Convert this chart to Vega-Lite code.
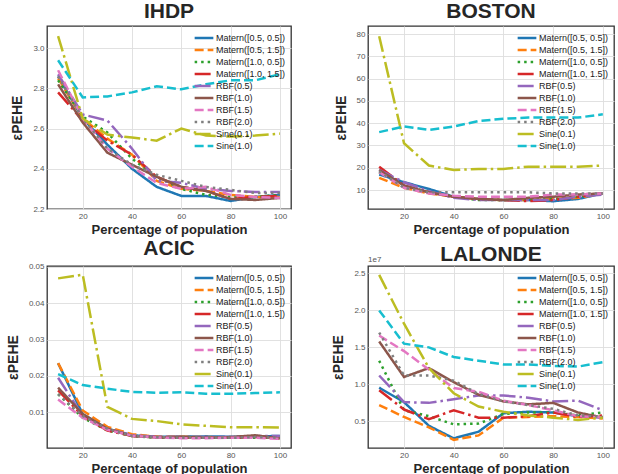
{
"$schema": "https://vega.github.io/schema/vega-lite/v6.json",
"background": "white",
"padding": {"left": 5, "top": 0, "right": 4, "bottom": 2},
"config": {
  "font": "Liberation Sans",
  "view": {"stroke": "#333333", "strokeWidth": 1.3},
  "axis": {"domain": false, "ticks": false, "grid": true, "gridColor": "#dedede", "gridWidth": 0.9, "labelColor": "#555555", "labelFontSize": 8, "labelFontWeight": "normal", "titleFontSize": 13, "titleFontWeight": "bold", "titleColor": "#262626", "labelPadding": 3, "titlePadding": 3},
  "axisY": {"titlePadding": 8, "titleFontSize": 14},
  "title": {"fontSize": 21, "fontWeight": "bold", "color": "#262626", "offset": 0},
  "legend": {"orient": "top-right", "offset": 3, "padding": 2, "labelFontSize": 9, "labelColor": "#1a1a1a", "symbolType": "M-1.7,0H1.7", "symbolStrokeWidth": 2.5, "symbolSize": 121, "rowPadding": 0, "labelLimit": 200, "labelOffset": 5},
  "line": {"strokeWidth": 2.5, "strokeCap": "butt"}
},
"datasets": {
"IHDP": [
{"k":"Matern([0.5, 0.5])","x":10,"y":2.86},{"k":"Matern([0.5, 0.5])","x":20,"y":2.65},{"k":"Matern([0.5, 0.5])","x":30,"y":2.52},{"k":"Matern([0.5, 0.5])","x":40,"y":2.40},{"k":"Matern([0.5, 0.5])","x":50,"y":2.31},{"k":"Matern([0.5, 0.5])","x":60,"y":2.265},{"k":"Matern([0.5, 0.5])","x":70,"y":2.265},{"k":"Matern([0.5, 0.5])","x":80,"y":2.24},{"k":"Matern([0.5, 0.5])","x":90,"y":2.26},{"k":"Matern([0.5, 0.5])","x":100,"y":2.27},
{"k":"Matern([0.5, 1.5])","x":10,"y":2.85},{"k":"Matern([0.5, 1.5])","x":20,"y":2.65},{"k":"Matern([0.5, 1.5])","x":30,"y":2.55},{"k":"Matern([0.5, 1.5])","x":40,"y":2.47},{"k":"Matern([0.5, 1.5])","x":50,"y":2.34},{"k":"Matern([0.5, 1.5])","x":60,"y":2.30},{"k":"Matern([0.5, 1.5])","x":70,"y":2.29},{"k":"Matern([0.5, 1.5])","x":80,"y":2.27},{"k":"Matern([0.5, 1.5])","x":90,"y":2.26},{"k":"Matern([0.5, 1.5])","x":100,"y":2.26},
{"k":"Matern([1.0, 0.5])","x":10,"y":2.84},{"k":"Matern([1.0, 0.5])","x":20,"y":2.66},{"k":"Matern([1.0, 0.5])","x":30,"y":2.58},{"k":"Matern([1.0, 0.5])","x":40,"y":2.45},{"k":"Matern([1.0, 0.5])","x":50,"y":2.36},{"k":"Matern([1.0, 0.5])","x":60,"y":2.30},{"k":"Matern([1.0, 0.5])","x":70,"y":2.27},{"k":"Matern([1.0, 0.5])","x":80,"y":2.26},{"k":"Matern([1.0, 0.5])","x":90,"y":2.26},{"k":"Matern([1.0, 0.5])","x":100,"y":2.27},
{"k":"Matern([1.0, 1.5])","x":10,"y":2.78},{"k":"Matern([1.0, 1.5])","x":20,"y":2.64},{"k":"Matern([1.0, 1.5])","x":30,"y":2.54},{"k":"Matern([1.0, 1.5])","x":40,"y":2.47},{"k":"Matern([1.0, 1.5])","x":50,"y":2.36},{"k":"Matern([1.0, 1.5])","x":60,"y":2.31},{"k":"Matern([1.0, 1.5])","x":70,"y":2.29},{"k":"Matern([1.0, 1.5])","x":80,"y":2.25},{"k":"Matern([1.0, 1.5])","x":90,"y":2.26},{"k":"Matern([1.0, 1.5])","x":100,"y":2.265},
{"k":"RBF(0.5)","x":10,"y":2.87},{"k":"RBF(0.5)","x":20,"y":2.67},{"k":"RBF(0.5)","x":30,"y":2.64},{"k":"RBF(0.5)","x":40,"y":2.50},{"k":"RBF(0.5)","x":50,"y":2.34},{"k":"RBF(0.5)","x":60,"y":2.33},{"k":"RBF(0.5)","x":70,"y":2.30},{"k":"RBF(0.5)","x":80,"y":2.29},{"k":"RBF(0.5)","x":90,"y":2.285},{"k":"RBF(0.5)","x":100,"y":2.285},
{"k":"RBF(1.0)","x":10,"y":2.82},{"k":"RBF(1.0)","x":20,"y":2.63},{"k":"RBF(1.0)","x":30,"y":2.48},{"k":"RBF(1.0)","x":40,"y":2.42},{"k":"RBF(1.0)","x":50,"y":2.36},{"k":"RBF(1.0)","x":60,"y":2.31},{"k":"RBF(1.0)","x":70,"y":2.29},{"k":"RBF(1.0)","x":80,"y":2.25},{"k":"RBF(1.0)","x":90,"y":2.245},{"k":"RBF(1.0)","x":100,"y":2.255},
{"k":"RBF(1.5)","x":10,"y":2.89},{"k":"RBF(1.5)","x":20,"y":2.65},{"k":"RBF(1.5)","x":30,"y":2.50},{"k":"RBF(1.5)","x":40,"y":2.41},{"k":"RBF(1.5)","x":50,"y":2.33},{"k":"RBF(1.5)","x":60,"y":2.30},{"k":"RBF(1.5)","x":70,"y":2.31},{"k":"RBF(1.5)","x":80,"y":2.27},{"k":"RBF(1.5)","x":90,"y":2.26},{"k":"RBF(1.5)","x":100,"y":2.255},
{"k":"RBF(2.0)","x":10,"y":2.86},{"k":"RBF(2.0)","x":20,"y":2.65},{"k":"RBF(2.0)","x":30,"y":2.50},{"k":"RBF(2.0)","x":40,"y":2.42},{"k":"RBF(2.0)","x":50,"y":2.37},{"k":"RBF(2.0)","x":60,"y":2.34},{"k":"RBF(2.0)","x":70,"y":2.31},{"k":"RBF(2.0)","x":80,"y":2.295},{"k":"RBF(2.0)","x":90,"y":2.28},{"k":"RBF(2.0)","x":100,"y":2.28},
{"k":"Sine(0.1)","x":10,"y":3.06},{"k":"Sine(0.1)","x":20,"y":2.65},{"k":"Sine(0.1)","x":30,"y":2.57},{"k":"Sine(0.1)","x":40,"y":2.555},{"k":"Sine(0.1)","x":50,"y":2.54},{"k":"Sine(0.1)","x":60,"y":2.60},{"k":"Sine(0.1)","x":70,"y":2.565},{"k":"Sine(0.1)","x":80,"y":2.56},{"k":"Sine(0.1)","x":90,"y":2.565},{"k":"Sine(0.1)","x":100,"y":2.575},
{"k":"Sine(1.0)","x":10,"y":2.94},{"k":"Sine(1.0)","x":20,"y":2.755},{"k":"Sine(1.0)","x":30,"y":2.76},{"k":"Sine(1.0)","x":40,"y":2.78},{"k":"Sine(1.0)","x":50,"y":2.81},{"k":"Sine(1.0)","x":60,"y":2.795},{"k":"Sine(1.0)","x":70,"y":2.82},{"k":"Sine(1.0)","x":80,"y":2.84},{"k":"Sine(1.0)","x":90,"y":2.84},{"k":"Sine(1.0)","x":100,"y":2.87}
],
"BOSTON": [
{"k":"Matern([0.5, 0.5])","x":10,"y":17},{"k":"Matern([0.5, 0.5])","x":20,"y":13.5},{"k":"Matern([0.5, 0.5])","x":30,"y":10.5},{"k":"Matern([0.5, 0.5])","x":40,"y":7},{"k":"Matern([0.5, 0.5])","x":50,"y":6},{"k":"Matern([0.5, 0.5])","x":60,"y":5.5},{"k":"Matern([0.5, 0.5])","x":70,"y":5.5},{"k":"Matern([0.5, 0.5])","x":80,"y":5},{"k":"Matern([0.5, 0.5])","x":90,"y":6},{"k":"Matern([0.5, 0.5])","x":100,"y":8.5},
{"k":"Matern([0.5, 1.5])","x":10,"y":15.5},{"k":"Matern([0.5, 1.5])","x":20,"y":11},{"k":"Matern([0.5, 1.5])","x":30,"y":8.5},{"k":"Matern([0.5, 1.5])","x":40,"y":7},{"k":"Matern([0.5, 1.5])","x":50,"y":6},{"k":"Matern([0.5, 1.5])","x":60,"y":5.5},{"k":"Matern([0.5, 1.5])","x":70,"y":5.5},{"k":"Matern([0.5, 1.5])","x":80,"y":6},{"k":"Matern([0.5, 1.5])","x":90,"y":6.5},{"k":"Matern([0.5, 1.5])","x":100,"y":8.5},
{"k":"Matern([1.0, 0.5])","x":10,"y":18},{"k":"Matern([1.0, 0.5])","x":20,"y":11.5},{"k":"Matern([1.0, 0.5])","x":30,"y":9},{"k":"Matern([1.0, 0.5])","x":40,"y":7},{"k":"Matern([1.0, 0.5])","x":50,"y":5.5},{"k":"Matern([1.0, 0.5])","x":60,"y":5.5},{"k":"Matern([1.0, 0.5])","x":70,"y":5.5},{"k":"Matern([1.0, 0.5])","x":80,"y":6},{"k":"Matern([1.0, 0.5])","x":90,"y":7},{"k":"Matern([1.0, 0.5])","x":100,"y":8.5},
{"k":"Matern([1.0, 1.5])","x":10,"y":20.5},{"k":"Matern([1.0, 1.5])","x":20,"y":12},{"k":"Matern([1.0, 1.5])","x":30,"y":9},{"k":"Matern([1.0, 1.5])","x":40,"y":7},{"k":"Matern([1.0, 1.5])","x":50,"y":6},{"k":"Matern([1.0, 1.5])","x":60,"y":5.5},{"k":"Matern([1.0, 1.5])","x":70,"y":5},{"k":"Matern([1.0, 1.5])","x":80,"y":5.5},{"k":"Matern([1.0, 1.5])","x":90,"y":7},{"k":"Matern([1.0, 1.5])","x":100,"y":8.5},
{"k":"RBF(0.5)","x":10,"y":19},{"k":"RBF(0.5)","x":20,"y":13.5},{"k":"RBF(0.5)","x":30,"y":9.5},{"k":"RBF(0.5)","x":40,"y":6.5},{"k":"RBF(0.5)","x":50,"y":5.5},{"k":"RBF(0.5)","x":60,"y":5.5},{"k":"RBF(0.5)","x":70,"y":5.5},{"k":"RBF(0.5)","x":80,"y":5.5},{"k":"RBF(0.5)","x":90,"y":7},{"k":"RBF(0.5)","x":100,"y":8},
{"k":"RBF(1.0)","x":10,"y":19},{"k":"RBF(1.0)","x":20,"y":12},{"k":"RBF(1.0)","x":30,"y":9},{"k":"RBF(1.0)","x":40,"y":7},{"k":"RBF(1.0)","x":50,"y":6},{"k":"RBF(1.0)","x":60,"y":5.5},{"k":"RBF(1.0)","x":70,"y":6.5},{"k":"RBF(1.0)","x":80,"y":7},{"k":"RBF(1.0)","x":90,"y":8},{"k":"RBF(1.0)","x":100,"y":8.5},
{"k":"RBF(1.5)","x":10,"y":18},{"k":"RBF(1.5)","x":20,"y":11},{"k":"RBF(1.5)","x":30,"y":8.5},{"k":"RBF(1.5)","x":40,"y":7.5},{"k":"RBF(1.5)","x":50,"y":7},{"k":"RBF(1.5)","x":60,"y":7},{"k":"RBF(1.5)","x":70,"y":7},{"k":"RBF(1.5)","x":80,"y":8},{"k":"RBF(1.5)","x":90,"y":8},{"k":"RBF(1.5)","x":100,"y":8.5},
{"k":"RBF(2.0)","x":10,"y":18.5},{"k":"RBF(2.0)","x":20,"y":11},{"k":"RBF(2.0)","x":30,"y":9},{"k":"RBF(2.0)","x":40,"y":9},{"k":"RBF(2.0)","x":50,"y":9},{"k":"RBF(2.0)","x":60,"y":9},{"k":"RBF(2.0)","x":70,"y":9},{"k":"RBF(2.0)","x":80,"y":8.5},{"k":"RBF(2.0)","x":90,"y":8.5},{"k":"RBF(2.0)","x":100,"y":8.5},
{"k":"Sine(0.1)","x":10,"y":79},{"k":"Sine(0.1)","x":20,"y":31},{"k":"Sine(0.1)","x":30,"y":21},{"k":"Sine(0.1)","x":40,"y":19},{"k":"Sine(0.1)","x":50,"y":19.5},{"k":"Sine(0.1)","x":60,"y":19.5},{"k":"Sine(0.1)","x":70,"y":20.5},{"k":"Sine(0.1)","x":80,"y":20.5},{"k":"Sine(0.1)","x":90,"y":20.5},{"k":"Sine(0.1)","x":100,"y":21},
{"k":"Sine(1.0)","x":10,"y":36},{"k":"Sine(1.0)","x":20,"y":38.5},{"k":"Sine(1.0)","x":30,"y":37},{"k":"Sine(1.0)","x":40,"y":38.5},{"k":"Sine(1.0)","x":50,"y":41},{"k":"Sine(1.0)","x":60,"y":42},{"k":"Sine(1.0)","x":70,"y":42.5},{"k":"Sine(1.0)","x":80,"y":42.5},{"k":"Sine(1.0)","x":90,"y":42.5},{"k":"Sine(1.0)","x":100,"y":44}
],
"ACIC": [
{"k":"Matern([0.5, 0.5])","x":10,"y":0.0235},{"k":"Matern([0.5, 0.5])","x":20,"y":0.0095},{"k":"Matern([0.5, 0.5])","x":30,"y":0.0055},{"k":"Matern([0.5, 0.5])","x":40,"y":0.0037},{"k":"Matern([0.5, 0.5])","x":50,"y":0.0033},{"k":"Matern([0.5, 0.5])","x":60,"y":0.0033},{"k":"Matern([0.5, 0.5])","x":70,"y":0.0034},{"k":"Matern([0.5, 0.5])","x":80,"y":0.0033},{"k":"Matern([0.5, 0.5])","x":90,"y":0.0034},{"k":"Matern([0.5, 0.5])","x":100,"y":0.0035},
{"k":"Matern([0.5, 1.5])","x":10,"y":0.0235},{"k":"Matern([0.5, 1.5])","x":20,"y":0.0105},{"k":"Matern([0.5, 1.5])","x":30,"y":0.006},{"k":"Matern([0.5, 1.5])","x":40,"y":0.004},{"k":"Matern([0.5, 1.5])","x":50,"y":0.0033},{"k":"Matern([0.5, 1.5])","x":60,"y":0.0033},{"k":"Matern([0.5, 1.5])","x":70,"y":0.0032},{"k":"Matern([0.5, 1.5])","x":80,"y":0.0031},{"k":"Matern([0.5, 1.5])","x":90,"y":0.0035},{"k":"Matern([0.5, 1.5])","x":100,"y":0.0028},
{"k":"Matern([1.0, 0.5])","x":10,"y":0.015},{"k":"Matern([1.0, 0.5])","x":20,"y":0.0085},{"k":"Matern([1.0, 0.5])","x":30,"y":0.005},{"k":"Matern([1.0, 0.5])","x":40,"y":0.0035},{"k":"Matern([1.0, 0.5])","x":50,"y":0.003},{"k":"Matern([1.0, 0.5])","x":60,"y":0.003},{"k":"Matern([1.0, 0.5])","x":70,"y":0.003},{"k":"Matern([1.0, 0.5])","x":80,"y":0.003},{"k":"Matern([1.0, 0.5])","x":90,"y":0.003},{"k":"Matern([1.0, 0.5])","x":100,"y":0.003},
{"k":"Matern([1.0, 1.5])","x":10,"y":0.016},{"k":"Matern([1.0, 1.5])","x":20,"y":0.009},{"k":"Matern([1.0, 1.5])","x":30,"y":0.005},{"k":"Matern([1.0, 1.5])","x":40,"y":0.0035},{"k":"Matern([1.0, 1.5])","x":50,"y":0.0032},{"k":"Matern([1.0, 1.5])","x":60,"y":0.003},{"k":"Matern([1.0, 1.5])","x":70,"y":0.003},{"k":"Matern([1.0, 1.5])","x":80,"y":0.003},{"k":"Matern([1.0, 1.5])","x":90,"y":0.0032},{"k":"Matern([1.0, 1.5])","x":100,"y":0.003},
{"k":"RBF(0.5)","x":10,"y":0.0195},{"k":"RBF(0.5)","x":20,"y":0.009},{"k":"RBF(0.5)","x":30,"y":0.0055},{"k":"RBF(0.5)","x":40,"y":0.0037},{"k":"RBF(0.5)","x":50,"y":0.0033},{"k":"RBF(0.5)","x":60,"y":0.0032},{"k":"RBF(0.5)","x":70,"y":0.0032},{"k":"RBF(0.5)","x":80,"y":0.0032},{"k":"RBF(0.5)","x":90,"y":0.0035},{"k":"RBF(0.5)","x":100,"y":0.0035},
{"k":"RBF(1.0)","x":10,"y":0.0168},{"k":"RBF(1.0)","x":20,"y":0.0095},{"k":"RBF(1.0)","x":30,"y":0.0055},{"k":"RBF(1.0)","x":40,"y":0.0035},{"k":"RBF(1.0)","x":50,"y":0.0031},{"k":"RBF(1.0)","x":60,"y":0.0033},{"k":"RBF(1.0)","x":70,"y":0.003},{"k":"RBF(1.0)","x":80,"y":0.0032},{"k":"RBF(1.0)","x":90,"y":0.0037},{"k":"RBF(1.0)","x":100,"y":0.0028},
{"k":"RBF(1.5)","x":10,"y":0.0135},{"k":"RBF(1.5)","x":20,"y":0.0085},{"k":"RBF(1.5)","x":30,"y":0.0052},{"k":"RBF(1.5)","x":40,"y":0.0036},{"k":"RBF(1.5)","x":50,"y":0.0031},{"k":"RBF(1.5)","x":60,"y":0.0029},{"k":"RBF(1.5)","x":70,"y":0.0029},{"k":"RBF(1.5)","x":80,"y":0.003},{"k":"RBF(1.5)","x":90,"y":0.003},{"k":"RBF(1.5)","x":100,"y":0.0027},
{"k":"RBF(2.0)","x":10,"y":0.015},{"k":"RBF(2.0)","x":20,"y":0.009},{"k":"RBF(2.0)","x":30,"y":0.0055},{"k":"RBF(2.0)","x":40,"y":0.0035},{"k":"RBF(2.0)","x":50,"y":0.0032},{"k":"RBF(2.0)","x":60,"y":0.003},{"k":"RBF(2.0)","x":70,"y":0.003},{"k":"RBF(2.0)","x":80,"y":0.003},{"k":"RBF(2.0)","x":90,"y":0.0032},{"k":"RBF(2.0)","x":100,"y":0.003},
{"k":"Sine(0.1)","x":10,"y":0.0468},{"k":"Sine(0.1)","x":20,"y":0.0478},{"k":"Sine(0.1)","x":30,"y":0.0115},{"k":"Sine(0.1)","x":40,"y":0.0082},{"k":"Sine(0.1)","x":50,"y":0.0076},{"k":"Sine(0.1)","x":60,"y":0.0067},{"k":"Sine(0.1)","x":70,"y":0.0063},{"k":"Sine(0.1)","x":80,"y":0.0059},{"k":"Sine(0.1)","x":90,"y":0.0059},{"k":"Sine(0.1)","x":100,"y":0.0058},
{"k":"Sine(1.0)","x":10,"y":0.0205},{"k":"Sine(1.0)","x":20,"y":0.0175},{"k":"Sine(1.0)","x":30,"y":0.0165},{"k":"Sine(1.0)","x":40,"y":0.0156},{"k":"Sine(1.0)","x":50,"y":0.0154},{"k":"Sine(1.0)","x":60,"y":0.0155},{"k":"Sine(1.0)","x":70,"y":0.0151},{"k":"Sine(1.0)","x":80,"y":0.0151},{"k":"Sine(1.0)","x":90,"y":0.0153},{"k":"Sine(1.0)","x":100,"y":0.0155}
],
"LALONDE": [
{"k":"Matern([0.5, 0.5])","x":10,"y":9550000},{"k":"Matern([0.5, 0.5])","x":20,"y":7600000},{"k":"Matern([0.5, 0.5])","x":30,"y":4400000},{"k":"Matern([0.5, 0.5])","x":40,"y":2700000},{"k":"Matern([0.5, 0.5])","x":50,"y":3600000},{"k":"Matern([0.5, 0.5])","x":60,"y":6100000},{"k":"Matern([0.5, 0.5])","x":70,"y":6300000},{"k":"Matern([0.5, 0.5])","x":80,"y":6200000},{"k":"Matern([0.5, 0.5])","x":90,"y":5700000},{"k":"Matern([0.5, 0.5])","x":100,"y":5500000},
{"k":"Matern([0.5, 1.5])","x":10,"y":7200000},{"k":"Matern([0.5, 1.5])","x":20,"y":5600000},{"k":"Matern([0.5, 1.5])","x":30,"y":4200000},{"k":"Matern([0.5, 1.5])","x":40,"y":2500000},{"k":"Matern([0.5, 1.5])","x":50,"y":3100000},{"k":"Matern([0.5, 1.5])","x":60,"y":5500000},{"k":"Matern([0.5, 1.5])","x":70,"y":5600000},{"k":"Matern([0.5, 1.5])","x":80,"y":5700000},{"k":"Matern([0.5, 1.5])","x":90,"y":5600000},{"k":"Matern([0.5, 1.5])","x":100,"y":5400000},
{"k":"Matern([1.0, 0.5])","x":10,"y":13200000},{"k":"Matern([1.0, 0.5])","x":20,"y":6500000},{"k":"Matern([1.0, 0.5])","x":30,"y":5700000},{"k":"Matern([1.0, 0.5])","x":40,"y":4600000},{"k":"Matern([1.0, 0.5])","x":50,"y":4700000},{"k":"Matern([1.0, 0.5])","x":60,"y":6000000},{"k":"Matern([1.0, 0.5])","x":70,"y":6200000},{"k":"Matern([1.0, 0.5])","x":80,"y":6200000},{"k":"Matern([1.0, 0.5])","x":90,"y":5800000},{"k":"Matern([1.0, 0.5])","x":100,"y":6200000},
{"k":"Matern([1.0, 1.5])","x":10,"y":9200000},{"k":"Matern([1.0, 1.5])","x":20,"y":6600000},{"k":"Matern([1.0, 1.5])","x":30,"y":5300000},{"k":"Matern([1.0, 1.5])","x":40,"y":6500000},{"k":"Matern([1.0, 1.5])","x":50,"y":5500000},{"k":"Matern([1.0, 1.5])","x":60,"y":5500000},{"k":"Matern([1.0, 1.5])","x":70,"y":5700000},{"k":"Matern([1.0, 1.5])","x":80,"y":6200000},{"k":"Matern([1.0, 1.5])","x":90,"y":5600000},{"k":"Matern([1.0, 1.5])","x":100,"y":5800000},
{"k":"RBF(0.5)","x":10,"y":11200000},{"k":"RBF(0.5)","x":20,"y":7600000},{"k":"RBF(0.5)","x":30,"y":7500000},{"k":"RBF(0.5)","x":40,"y":8000000},{"k":"RBF(0.5)","x":50,"y":8500000},{"k":"RBF(0.5)","x":60,"y":8500000},{"k":"RBF(0.5)","x":70,"y":8200000},{"k":"RBF(0.5)","x":80,"y":7700000},{"k":"RBF(0.5)","x":90,"y":7800000},{"k":"RBF(0.5)","x":100,"y":6500000},
{"k":"RBF(1.0)","x":10,"y":15800000},{"k":"RBF(1.0)","x":20,"y":11000000},{"k":"RBF(1.0)","x":30,"y":12200000},{"k":"RBF(1.0)","x":40,"y":10300000},{"k":"RBF(1.0)","x":50,"y":8600000},{"k":"RBF(1.0)","x":60,"y":7700000},{"k":"RBF(1.0)","x":70,"y":7300000},{"k":"RBF(1.0)","x":80,"y":7500000},{"k":"RBF(1.0)","x":90,"y":6200000},{"k":"RBF(1.0)","x":100,"y":5500000},
{"k":"RBF(1.5)","x":10,"y":16600000},{"k":"RBF(1.5)","x":20,"y":14500000},{"k":"RBF(1.5)","x":30,"y":12000000},{"k":"RBF(1.5)","x":40,"y":9500000},{"k":"RBF(1.5)","x":50,"y":9000000},{"k":"RBF(1.5)","x":60,"y":7800000},{"k":"RBF(1.5)","x":70,"y":7200000},{"k":"RBF(1.5)","x":80,"y":6500000},{"k":"RBF(1.5)","x":90,"y":5700000},{"k":"RBF(1.5)","x":100,"y":5500000},
{"k":"RBF(2.0)","x":10,"y":17000000},{"k":"RBF(2.0)","x":20,"y":11200000},{"k":"RBF(2.0)","x":30,"y":11200000},{"k":"RBF(2.0)","x":40,"y":10500000},{"k":"RBF(2.0)","x":50,"y":8700000},{"k":"RBF(2.0)","x":60,"y":7700000},{"k":"RBF(2.0)","x":70,"y":7200000},{"k":"RBF(2.0)","x":80,"y":6700000},{"k":"RBF(2.0)","x":90,"y":5800000},{"k":"RBF(2.0)","x":100,"y":5600000},
{"k":"Sine(0.1)","x":10,"y":24800000},{"k":"Sine(0.1)","x":20,"y":18200000},{"k":"Sine(0.1)","x":30,"y":12200000},{"k":"Sine(0.1)","x":40,"y":8800000},{"k":"Sine(0.1)","x":50,"y":7000000},{"k":"Sine(0.1)","x":60,"y":6300000},{"k":"Sine(0.1)","x":70,"y":5800000},{"k":"Sine(0.1)","x":80,"y":5500000},{"k":"Sine(0.1)","x":90,"y":5200000},{"k":"Sine(0.1)","x":100,"y":5500000},
{"k":"Sine(1.0)","x":10,"y":20000000},{"k":"Sine(1.0)","x":20,"y":15500000},{"k":"Sine(1.0)","x":30,"y":15000000},{"k":"Sine(1.0)","x":40,"y":13700000},{"k":"Sine(1.0)","x":50,"y":13200000},{"k":"Sine(1.0)","x":60,"y":12700000},{"k":"Sine(1.0)","x":70,"y":12700000},{"k":"Sine(1.0)","x":80,"y":12500000},{"k":"Sine(1.0)","x":90,"y":12400000},{"k":"Sine(1.0)","x":100,"y":13000000}
],
"offset": [{"t": "1e7"}]
},
"resolve": {"scale": {"color": "independent", "strokeDash": "independent"}, "legend": {"color": "independent", "strokeDash": "independent"}},
"columns": 2,
"bounds": "flush",
"spacing": {"row": 57, "column": 77},
"concat": [
 {"title": "IHDP", "width": 244, "height": 183, "data": {"name": "IHDP"}, "mark": {"type": "line"},
  "encoding": {
   "x": {"field": "x", "type": "quantitative", "scale": {"domain": [5.5, 104.5], "nice": false, "zero": false}, "axis": {"values": [20, 40, 60, 80, 100], "title": "Percentage of population"}},
   "y": {"field": "y", "type": "quantitative", "scale": {"domain": [2.2, 3.11], "nice": false, "zero": false}, "axis": {"values": [2.2, 2.4, 2.6, 2.8, 3.0], "format": ".1f", "title": "εPEHE"}},
   "color": {"field": "k", "type": "nominal", "title": null, "scale": {"domain": ["Matern([0.5, 0.5])","Matern([0.5, 1.5])","Matern([1.0, 0.5])","Matern([1.0, 1.5])","RBF(0.5)","RBF(1.0)","RBF(1.5)","RBF(2.0)","Sine(0.1)","Sine(1.0)"], "range": ["#1f77b4","#ff7f0e","#2ca02c","#d62728","#9467bd","#8c564b","#e377c2","#7f7f7f","#bcbd22","#17becf"]}},
   "strokeDash": {"field": "k", "type": "nominal", "title": null, "scale": {"domain": ["Matern([0.5, 0.5])","Matern([0.5, 1.5])","Matern([1.0, 0.5])","Matern([1.0, 1.5])","RBF(0.5)","RBF(1.0)","RBF(1.5)","RBF(2.0)","Sine(0.1)","Sine(1.0)"], "range": [[1,0],[9,4],[2.5,4],[16,4,2.5,4],[16,4,2.5,4],[1,0],[9,4],[2.5,4],[16,4,2.5,4],[9,4]]}}
  }},
 {"title": "BOSTON", "width": 246, "height": 183, "data": {"name": "BOSTON"}, "mark": {"type": "line"},
  "encoding": {
   "x": {"field": "x", "type": "quantitative", "scale": {"domain": [5.5, 104.5], "nice": false, "zero": false}, "axis": {"values": [20, 40, 60, 80, 100], "title": "Percentage of population"}},
   "y": {"field": "y", "type": "quantitative", "scale": {"domain": [1.5, 83.6], "nice": false, "zero": false}, "axis": {"values": [10, 20, 30, 40, 50, 60, 70, 80], "title": "εPEHE"}},
   "color": {"field": "k", "type": "nominal", "title": null, "scale": {"domain": ["Matern([0.5, 0.5])","Matern([0.5, 1.5])","Matern([1.0, 0.5])","Matern([1.0, 1.5])","RBF(0.5)","RBF(1.0)","RBF(1.5)","RBF(2.0)","Sine(0.1)","Sine(1.0)"], "range": ["#1f77b4","#ff7f0e","#2ca02c","#d62728","#9467bd","#8c564b","#e377c2","#7f7f7f","#bcbd22","#17becf"]}},
   "strokeDash": {"field": "k", "type": "nominal", "title": null, "scale": {"domain": ["Matern([0.5, 0.5])","Matern([0.5, 1.5])","Matern([1.0, 0.5])","Matern([1.0, 1.5])","RBF(0.5)","RBF(1.0)","RBF(1.5)","RBF(2.0)","Sine(0.1)","Sine(1.0)"], "range": [[1,0],[9,4],[2.5,4],[16,4,2.5,4],[16,4,2.5,4],[1,0],[9,4],[2.5,4],[16,4,2.5,4],[9,4]]}}
  }},
 {"title": "ACIC", "width": 244, "height": 182, "data": {"name": "ACIC"}, "mark": {"type": "line"},
  "encoding": {
   "x": {"field": "x", "type": "quantitative", "scale": {"domain": [5.5, 104.5], "nice": false, "zero": false}, "axis": {"values": [20, 40, 60, 80, 100], "title": "Percentage of population"}},
   "y": {"field": "y", "type": "quantitative", "scale": {"domain": [0.0002, 0.0502], "nice": false, "zero": false}, "axis": {"values": [0.01, 0.02, 0.03, 0.04, 0.05], "format": ".2f", "title": "εPEHE"}},
   "color": {"field": "k", "type": "nominal", "title": null, "scale": {"domain": ["Matern([0.5, 0.5])","Matern([0.5, 1.5])","Matern([1.0, 0.5])","Matern([1.0, 1.5])","RBF(0.5)","RBF(1.0)","RBF(1.5)","RBF(2.0)","Sine(0.1)","Sine(1.0)"], "range": ["#1f77b4","#ff7f0e","#2ca02c","#d62728","#9467bd","#8c564b","#e377c2","#7f7f7f","#bcbd22","#17becf"]}},
   "strokeDash": {"field": "k", "type": "nominal", "title": null, "scale": {"domain": ["Matern([0.5, 0.5])","Matern([0.5, 1.5])","Matern([1.0, 0.5])","Matern([1.0, 1.5])","RBF(0.5)","RBF(1.0)","RBF(1.5)","RBF(2.0)","Sine(0.1)","Sine(1.0)"], "range": [[1,0],[9,4],[2.5,4],[16,4,2.5,4],[16,4,2.5,4],[1,0],[9,4],[2.5,4],[16,4,2.5,4],[9,4]]}}
  }},
 {"title": {"text": "LALONDE", "offset": -9}, "width": 246, "height": 182,
  "layer": [
   {"data": {"name": "LALONDE"}, "mark": {"type": "line"},
    "encoding": {
     "x": {"field": "x", "type": "quantitative", "scale": {"domain": [5.5, 104.5], "nice": false, "zero": false}, "axis": {"values": [20, 40, 60, 80, 100], "title": "Percentage of population"}},
     "y": {"field": "y", "type": "quantitative", "scale": {"domain": [1400000, 26000000], "nice": false, "zero": false}, "axis": {"values": [5000000, 10000000, 15000000, 20000000, 25000000], "labelExpr": "format(datum.value / 10000000, '.1f')", "title": "εPEHE"}},
     "color": {"field": "k", "type": "nominal", "title": null, "scale": {"domain": ["Matern([0.5, 0.5])","Matern([0.5, 1.5])","Matern([1.0, 0.5])","Matern([1.0, 1.5])","RBF(0.5)","RBF(1.0)","RBF(1.5)","RBF(2.0)","Sine(0.1)","Sine(1.0)"], "range": ["#1f77b4","#ff7f0e","#2ca02c","#d62728","#9467bd","#8c564b","#e377c2","#7f7f7f","#bcbd22","#17becf"]}},
     "strokeDash": {"field": "k", "type": "nominal", "title": null, "scale": {"domain": ["Matern([0.5, 0.5])","Matern([0.5, 1.5])","Matern([1.0, 0.5])","Matern([1.0, 1.5])","RBF(0.5)","RBF(1.0)","RBF(1.5)","RBF(2.0)","Sine(0.1)","Sine(1.0)"], "range": [[1,0],[9,4],[2.5,4],[16,4,2.5,4],[16,4,2.5,4],[1,0],[9,4],[2.5,4],[16,4,2.5,4],[9,4]]}}
    }},
   {"data": {"name": "offset"}, "mark": {"type": "text", "align": "left", "baseline": "bottom", "dy": -2, "fontSize": 8, "color": "#555555"},
    "encoding": {"x": {"datum": 5.5}, "y": {"datum": 26000000}, "text": {"field": "t"}}}
  ]}
]
}
